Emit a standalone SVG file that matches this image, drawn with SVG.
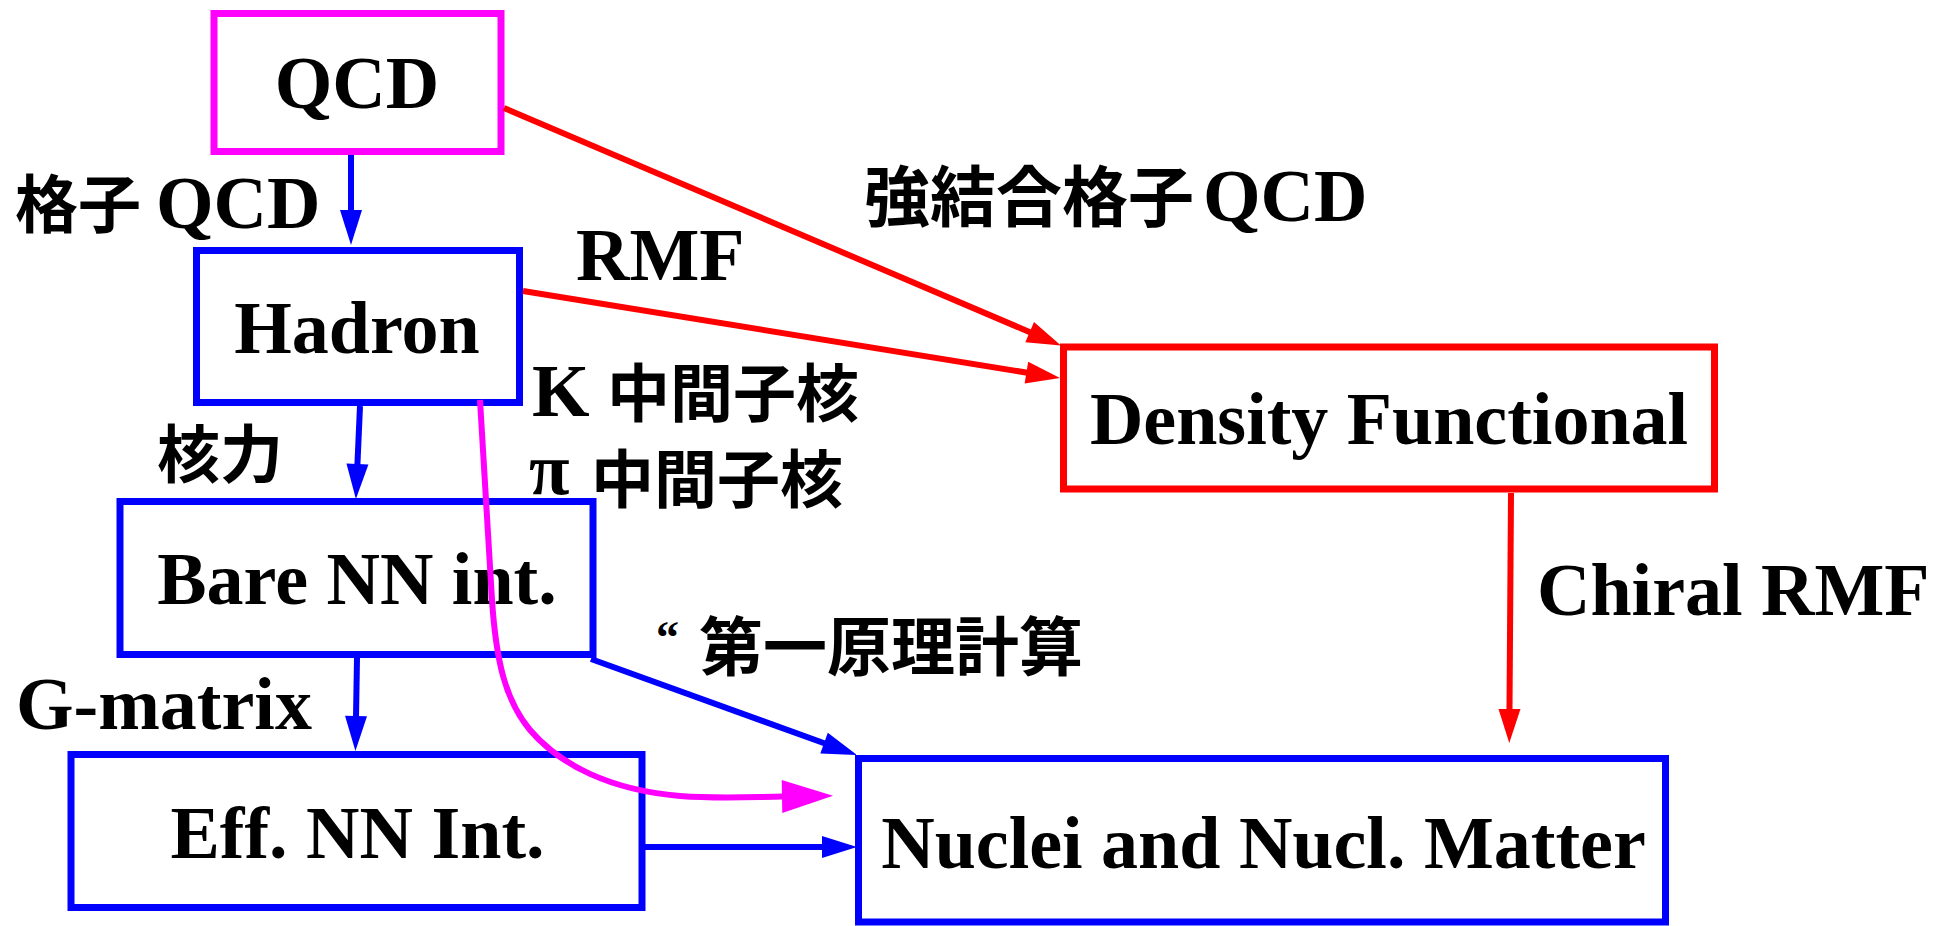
<svg xmlns="http://www.w3.org/2000/svg" width="1933" height="926" viewBox="0 0 1933 926">
<style>
text{font-family:"Liberation Serif","Times New Roman","Noto Sans CJK JP",serif;font-weight:bold;font-size:74px;fill:#000}
.cjk{font-family:"Noto Sans CJK JP","Noto Sans CJK SC",sans-serif;font-size:63px;font-weight:bold}
.box{fill:#fff;stroke-width:7}
.bl{stroke:#0000FF}
.rd{stroke:#FF0000}
.mg{stroke:#FF00FF}
.c{fill:none;stroke-width:6}
.mid{text-anchor:middle}
</style>
<defs>
<marker id="ab" markerUnits="userSpaceOnUse" markerWidth="40" markerHeight="30" viewBox="0 0 40 30" refX="0" refY="15" orient="auto" overflow="visible"><path d="M-1,4 L34,15 L-1,26 Z" fill="#0000FF"/></marker>
<marker id="ar" markerUnits="userSpaceOnUse" markerWidth="40" markerHeight="30" viewBox="0 0 40 30" refX="0" refY="15" orient="auto" overflow="visible"><path d="M-1,4 L33,15 L-1,26 Z" fill="#FF0000"/></marker>
<marker id="am" markerUnits="userSpaceOnUse" markerWidth="60" markerHeight="40" viewBox="0 0 60 40" refX="0" refY="20" orient="auto" overflow="visible"><path d="M-1,3.5 L50,20 L-1,36.5 Z" fill="#FF00FF"/></marker>
</defs>

<g id="qcd">
<rect class="box mg" x="214" y="13.5" width="287" height="138"/>
<text class="mid" x="357" y="108">QCD</text>
</g>

<g id="hadron">
<rect class="box bl" x="196.5" y="250.5" width="323" height="152"/>
<text class="mid" x="357" y="353">Hadron</text>
</g>

<g id="density">
<rect class="box rd" x="1063.5" y="347" width="651" height="142"/>
<text class="mid" x="1389" y="444">Density Functional</text>
</g>

<g id="bare">
<rect class="box bl" x="120" y="501.5" width="473" height="153"/>
<text class="mid" x="357" y="604">Bare NN int.</text>
</g>

<g id="eff">
<rect class="box bl" x="71" y="754.5" width="571" height="153"/>
<text class="mid" x="357.5" y="858">Eff. NN Int.</text>
</g>

<g id="nuclei">
<rect class="box bl" x="858.5" y="758.5" width="807" height="163.5"/>
<text class="mid" x="1263.5" y="868">Nuclei and Nucl. Matter</text>
</g>

<g id="connectors">
<path class="c bl" d="M351,155 L351,211" marker-end="url(#ab)"/>
<path class="c bl" d="M360,406 L357.4,465" marker-end="url(#ab)"/>
<path class="c bl" d="M357,658 L356,717" marker-end="url(#ab)"/>
<path class="c bl" d="M591,659 L825,743.5" marker-end="url(#ab)"/>
<path class="c bl" d="M645,847 L823,847" marker-end="url(#ab)"/>
<path class="c rd" d="M504,108 L1030.6,332.5" marker-end="url(#ar)"/>
<path class="c rd" d="M523,291 L1027.4,372.7" marker-end="url(#ar)"/>
<path class="c rd" d="M1511,493 L1509.5,710" stroke-width="5.5" marker-end="url(#ar)"/>
<path class="c mg" d="M480,400 L492,600 C496,660 505,700 530,730 C560,765 610,790 680,796 C720,799 750,797 783,796.5" marker-end="url(#am)"/>
</g>

<g id="labels">
<text x="15" y="227"><tspan class="cjk">格子 </tspan><tspan x="156" dy="1">QCD</tspan></text>
<text x="864" y="221"><tspan class="cjk" style="font-size:66px">強結合格子 </tspan><tspan x="1203">QCD</tspan></text>
<text x="576" y="280">RMF</text>
<text x="532" y="416">K <tspan class="cjk" x="607">中間子核</tspan></text>
<text x="529" y="502"><tspan dy="-8">π </tspan><tspan class="cjk" x="591" dy="8">中間子核</tspan></text>
<text x="157" y="477" class="cjk">核力</text>
<text x="16" y="729">G-matrix</text>
<text x="656" y="670"><tspan style="font-size:46px" dy="-17">“ </tspan><tspan class="cjk" style="font-size:64px" x="699" dy="17">第一原理計算</tspan></text>
<text x="1537" y="615">Chiral RMF</text>
</g>
</svg>
